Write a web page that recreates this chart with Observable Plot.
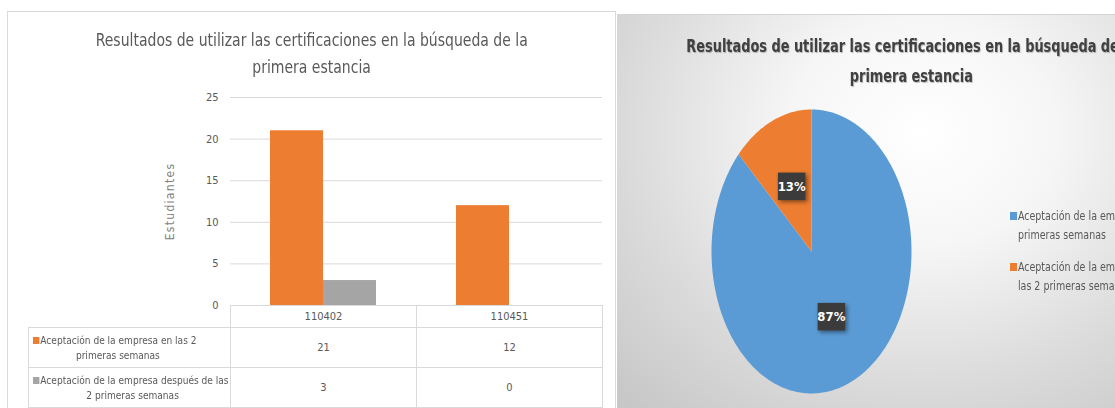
<!DOCTYPE html>
<html>
<head>
<meta charset="utf-8">
<script src="https://cdn.jsdelivr.net/npm/d3@7"></script>
<script src="https://cdn.jsdelivr.net/npm/@observablehq/plot@0.6"></script>
<style>
  html, body { margin: 0; padding: 0; width: 1115px; height: 408px; overflow: hidden; background: #fff; }
  body { position: relative; font-family: "DejaVu Sans Condensed", "Liberation Sans Narrow", sans-serif; }
  .abs { position: absolute; }
  .sx { display: inline-block; white-space: nowrap; }
  #leftPanel { left: 7px; top: 11px; width: 609px; height: 420px; border: 1.5px solid #d9d9d9; box-sizing: border-box; background: #fff; }
  #leftTitle { left: 7px; top: 26px; width: 609px; text-align: center; font-size: 18px; line-height: 27px; color: #595959; }
  #leftTitle .sx { transform: scaleX(0.865); transform-origin: 50% 50%; }
  #rightPanel { left: 617px; top: 14px; width: 588px; height: 420px; overflow: hidden;
    border-top: 1px solid #d4d4d4;
    background: radial-gradient(ellipse 75% 90% at 52% 28%, #ffffff 0%, #f6f6f6 30%, #dcdcdc 65%, #c6c6c6 100%); }
  #rightTitle { left: 617px; top: 31px; width: 588px; text-align: center; font-size: 18.5px; font-weight: bold; line-height: 30px; color: #404040; text-shadow: 1px 1px 1px rgba(0,0,0,0.25); }
  #rightTitle .sx { transform: scaleX(0.775); transform-origin: 50% 50%; }
  table { border-collapse: collapse; table-layout: fixed; width: 574px; font-size: 11px; color: #595959; }
  td { border: 1px solid #d9d9d9; text-align: center; padding: 0; white-space: nowrap; overflow: visible; }
  td.blank { border: none; }
  td.lab { text-align: left; padding-left: 4px; line-height: 15px; }
  td.lab .sx { transform: scaleX(0.915); transform-origin: 0 50%; }
  td.lab .l2 { display: block; text-align: center; }
  td.lab .l2 .sx { transform-origin: 50% 50%; }
  .sw { display: inline-block; width: 7px; height: 7px; margin-right: 1px; }
  #legend { left: 1010px; top: 207px; font-size: 12px; color: #595959; line-height: 19px; white-space: nowrap; transform: scaleX(0.88); transform-origin: 0 0; }
  #legend .item { margin-bottom: 13px; }
  #legend .sw { width: 8px; height: 8px; margin-right: 1px; }
  #legend .l2 { padding-left: 9px; }
  svg g[aria-label="dot"] { filter: drop-shadow(2px 2px 2px rgba(0,0,0,0.45)); }
  svg g[aria-label="y-axis label"] text { font-size: 12px; letter-spacing: 1.3px; fill: #7f7f7f; }
</style>
</head>
<body>
<div id="leftPanel" class="abs"></div>
<div id="rightPanel" class="abs"></div>
<div id="leftTitle" class="abs"></div>
<div id="rightTitle" class="abs"></div>
<div id="barHolder" class="abs" style="left:0;top:0;width:615px"></div>
<div id="tableHolder" class="abs" style="left:28px;top:305px;width:580px"></div>
<div id="pieHolder" class="abs" style="left:617px;top:14px;width:588px"></div>
<div id="legend" class="abs"></div>
<script>
// ---- data ----
const titleLines = ["Resultados de utilizar las certificaciones en la búsqueda de la", "primera estancia"];
const pieTitleLines = ["Resultados de utilizar las certificaciones en la búsqueda de la", "primera estancia"];
const categories = ["110402", "110451"];
const seriesNames = ["Aceptación de la empresa en las 2 primeras semanas", "Aceptación de la empresa después de las 2 primeras semanas"];
const seriesLines = [["Aceptación de la empresa en las 2", "primeras semanas"], ["Aceptación de la empresa después de las", "2 primeras semanas"]];
const seriesA = [21, 12];
const seriesB = [3, 0];
const seriesColors = ["#ed7d31", "#a5a5a5"];
const yTicks = [0, 5, 10, 15, 20, 25];
const yLabel = "Estudiantes";
const pieNames = ["Aceptación de la empresa en las 2 primeras semanas", "Aceptación de la empresa después de las 2 primeras semanas"];
const pieLegendLines = [["Aceptación de la empresa en las 2", "primeras semanas"], ["Aceptación de la empresa después de", "las 2 primeras semanas"]];
const pieValues = [87, 13];
const pieColors = ["#5b9bd5", "#ed7d31"];

const FONT = '"DejaVu Sans Condensed", "Liberation Sans Narrow", sans-serif';
const sx = t => `<span class="sx">${t}</span>`;

// titles
document.getElementById("leftTitle").innerHTML = titleLines.map(sx).join("<br>");
document.getElementById("rightTitle").innerHTML = pieTitleLines.map(sx).join("<br>");

// ---- bar chart ----
const seriesVals = [seriesA, seriesB];
const rows = [];
categories.forEach((c, i) => seriesNames.forEach((s, j) => rows.push({category: c, series: s, value: seriesVals[j][i]})));

const bar = Plot.plot({
  width: 615, height: 315,
  marginLeft: 230, marginRight: 13, marginTop: 97, marginBottom: 10,
  style: {fontFamily: FONT, fontSize: "11px", color: "#595959", background: "transparent"},
  fx: {domain: categories, padding: 0, axis: null},
  x: {domain: seriesNames, paddingInner: 0, paddingOuter: 0.738, axis: null},
  y: {domain: [0, 25]},
  color: {domain: seriesNames, range: seriesColors},
  marks: [
    Plot.ruleY(yTicks, {stroke: "#d9d9d9", strokeWidth: 1}),
    Plot.barY(rows, {fx: "category", x: "series", y: "value", fill: "series"}),
    Plot.axisY({ticks: yTicks, tickSize: 0, tickPadding: 12, label: yLabel, labelAnchor: "center", labelArrow: "none", labelOffset: 65, fill: "#595959"})
  ]
});
document.getElementById("barHolder").appendChild(bar);

// ---- data table ----
let html = '<table><colgroup><col style="width:202px"><col style="width:186px"><col style="width:186px"></colgroup>';
html += '<tr style="height:22px"><td class="blank"></td>' + categories.map(c => `<td>${c}</td>`).join("") + '</tr>';
seriesNames.forEach((s, j) => {
  const w = j === 0 ? 170 : 200;
  html += `<tr style="height:40px"><td class="lab" title="${s}">` +
    sx(`<span class="sw" style="background:${seriesColors[j]}"></span>${seriesLines[j][0]}`) +
    `<span class="l2" style="width:${w}px">${sx(seriesLines[j][1])}</span></td>` +
    categories.map((c, i) => `<td>${seriesVals[j][i]}</td>`).join("") + '</tr>';
});
html += '</table>';
document.getElementById("tableHolder").innerHTML = html;

// ---- pie chart ----
const arcs = d3.pie().sort(null)(pieValues);
const total = d3.sum(pieValues);
const piePts = [];
const pieLbls = [];
arcs.forEach((a, k) => {
  piePts.push({slice: k, x: 0, y: 0, color: pieColors[k]});
  const n = Math.max(2, Math.ceil((a.endAngle - a.startAngle) / (Math.PI / 180)));
  for (let t = 0; t <= n; t++) {
    const ang = a.startAngle + (a.endAngle - a.startAngle) * t / n;
    piePts.push({slice: k, x: Math.sin(ang), y: Math.cos(ang), color: pieColors[k]});
  }
  piePts.push({slice: k, x: 0, y: 0, color: pieColors[k]});
  const mid = (a.startAngle + a.endAngle) / 2;
  pieLbls.push({x: 0.5 * Math.sin(mid), y: 0.5 * Math.cos(mid), text: Math.round(100 * a.value / total) + "%"});
});

const pie = Plot.plot({
  width: 588, height: 394,
  marginLeft: 94, marginRight: 294, marginTop: 95, marginBottom: 15,
  style: {fontFamily: FONT, background: "transparent", overflow: "visible", maxWidth: "none"},
  x: {domain: [-1, 1], axis: null},
  y: {domain: [-1, 1], axis: null},
  marks: [
    Plot.line(piePts, {x: "x", y: "y", z: "slice", fill: "color", stroke: "none", curve: "linear"}),
    Plot.dot(pieLbls, {x: "x", y: "y", symbol: "square", r: 15.5, fill: "#3b3b3b", stroke: "none"}),
    Plot.text(pieLbls, {x: "x", y: "y", text: "text", fill: "#ffffff", fontWeight: "bold", fontSize: 13})
  ]
});
document.getElementById("pieHolder").appendChild(pie);

// legend
document.getElementById("legend").innerHTML = pieNames.map((n, k) =>
  `<div class="item" title="${n}"><span class="sw" style="background:${pieColors[k]}"></span>${pieLegendLines[k][0]}<br><span class="l2">${pieLegendLines[k][1]}</span></div>`
).join("");
</script>
</body>
</html>
